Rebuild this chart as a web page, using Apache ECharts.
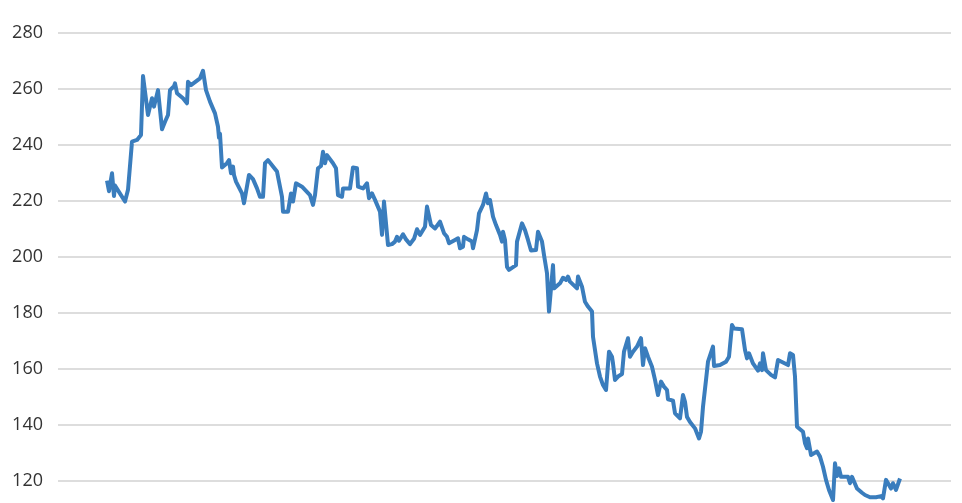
<!DOCTYPE html>
<html>
<head>
<meta charset="utf-8">
<script src="https://cdn.jsdelivr.net/npm/echarts@6/dist/echarts.min.js"></script>
<style>
html,body{margin:0;padding:0;background:#fff;}
#chart{width:962px;height:503px;}
</style>
</head>
<body>
<div id="chart"></div>
<script>
// x positions (trading-day index) and closing values
const days = [0,2,5,7,8,18,21,25,30,32,34,36,41,43,45,47,51,55,58,61,63,67,68,70,76,80,81,84,93,96,99,103,108,111,112,113,115,
120,122,124,126,127,129,131,135,137,142,146,150,153,156,158,161,166,170,172,175,176,181,184,186,189,195,203,206,208,211,214,216,218,220,
226,229,231,235,236,243,246,250,251,256,258,260,262,265,268,273,275,277,281,285,288,290,292,296,299,303,307,310,313,318,320,324,328,333,337,340,342,348,351,353,356,357,361,365,366,
370,372,376,379,381,383,386,389,393,395,396,398,400,402,409,410,415,418,421,424,429,431,435,437,440,442,446,447,453,456,459,461,463,470,471,475,478,481,485,486,487,
490,493,496,499,502,505,506,508,511,515,517,521,523,526,530,534,536,538,541,545,548,551,554,557,560,561,566,568,573,576,578,580,583,588,592,594,596,599,601,606,607,
613,619,622,625,627,635,638,640,642,646,651,653,655,656,659,664,668,671,673,681,683,686,688,690,696,698,700,701,704,710,713,716,719,722,726,728,730,732,734,
738,741,743,745,747,750,755,758,760,763,769,774,776,779,781,784,786,789,793];
const values = [227.3,223.5,229.9,221.8,225.5,219.8,224,241.2,241.8,242.4,243.6,264.6,250.7,253.7,256.7,253.7,259.6,245.6,248.3,250.7,259.6,261,262,258.5,256.7,254.9,262.6,261.4,263.8,266.5,259.6,255.5,251.3,246.5,242.6,244,232,
233.5,234.6,229.9,232.3,229.3,226.9,226.9,222.7,219.2,229.3,227.8,224.5,221.5,221.5,233.5,234.6,232.3,230.5,230.5,221.5,216.2,216.2,222.7,219.8,226.3,225.1,222.1,218.6,222.1,231.7,232.5,237.6,233.5,236.4,
233.5,231.7,222.1,221.5,224.5,224.5,232,231.7,225.1,224.5,223.9,226.3,221,222.7,220.4,216.2,207.9,219.8,204.3,204.6,205.5,207.2,205.8,208.1,206.3,204.6,206.5,209.9,207.9,210.8,218,211.4,210.2,212.6,208.5,207.2,204.9,206.1,206.7,203.1,203.7,207.2,206.3,205.5,203.1,
209.6,215.6,218.6,222.7,219.2,220.4,214.4,211.4,207.9,205.5,209,206.1,196.5,195.4,197.1,205.5,212,209.6,206.1,202.3,202.5,209,205.5,200.7,194.2,180.5,197.1,188.8,190.6,192.6,191.8,193,191.2,188.8,193,189.4,184,182.3,180.5,171.5,171.5,
162,157.3,154.3,152.5,166.2,164.4,162,156.1,157.3,158.2,166.2,171,164.4,166.2,168,171,161.4,167.4,164.4,160.8,156.1,150.7,155.5,153.7,152.5,149.2,148.7,144.2,142.4,150.7,148.3,142.9,141.1,138.8,135.2,137.6,146.5,156.1,162.6,168,161.1,
161.4,162.6,164.4,175.7,174.5,174.2,166.8,163.8,165.6,162,159.4,162,159.6,165.6,159.6,157.9,157,163.2,163.8,161.4,165.6,165,157.3,139.4,137.6,133.5,131.7,135.2,129.3,130.5,128.7,125.1,120.4,116.8,113.2,126.3,121.8,124.5,121.5,
121.5,121.5,119.2,121.5,121.3,117.3,115.8,115,115.6,114.2,114.2,114.6,113.8,120.4,119.2,117.3,119.2,116.8,120.9];
const yTicks = [100,120,140,160,180,200,220,240,260,280];

const seriesData = days.map((d, i) => [d, values[i]]);

const chart = echarts.init(document.getElementById('chart'), null, {renderer: 'canvas'});
chart.setOption({
  animation: false,
  backgroundColor: '#ffffff',
  grid: {left: 58, right: 11, top: 33, bottom: -34, containLabel: false, outerBoundsMode: 'none'},
  xAxis: {
    type: 'value', min: -49, max: 844, show: false,
    splitLine: {show: false}
  },
  yAxis: {
    type: 'value', min: yTicks[0], max: yTicks[yTicks.length - 1], interval: 20,
    axisLine: {show: false}, axisTick: {show: false},
    axisLabel: {color: '#333333', fontSize: 18, fontFamily: 'Open Sans', margin: 15},
    splitLine: {lineStyle: {color: '#d2d2d2', width: 1.6}}
  },
  series: [{
    type: 'line', data: seriesData, showSymbol: false, symbol: 'none',
    lineStyle: {color: '#3a7dbd', width: 4, join: 'round'},
    smooth: false
  }]
});
</script>
</body>
</html>
